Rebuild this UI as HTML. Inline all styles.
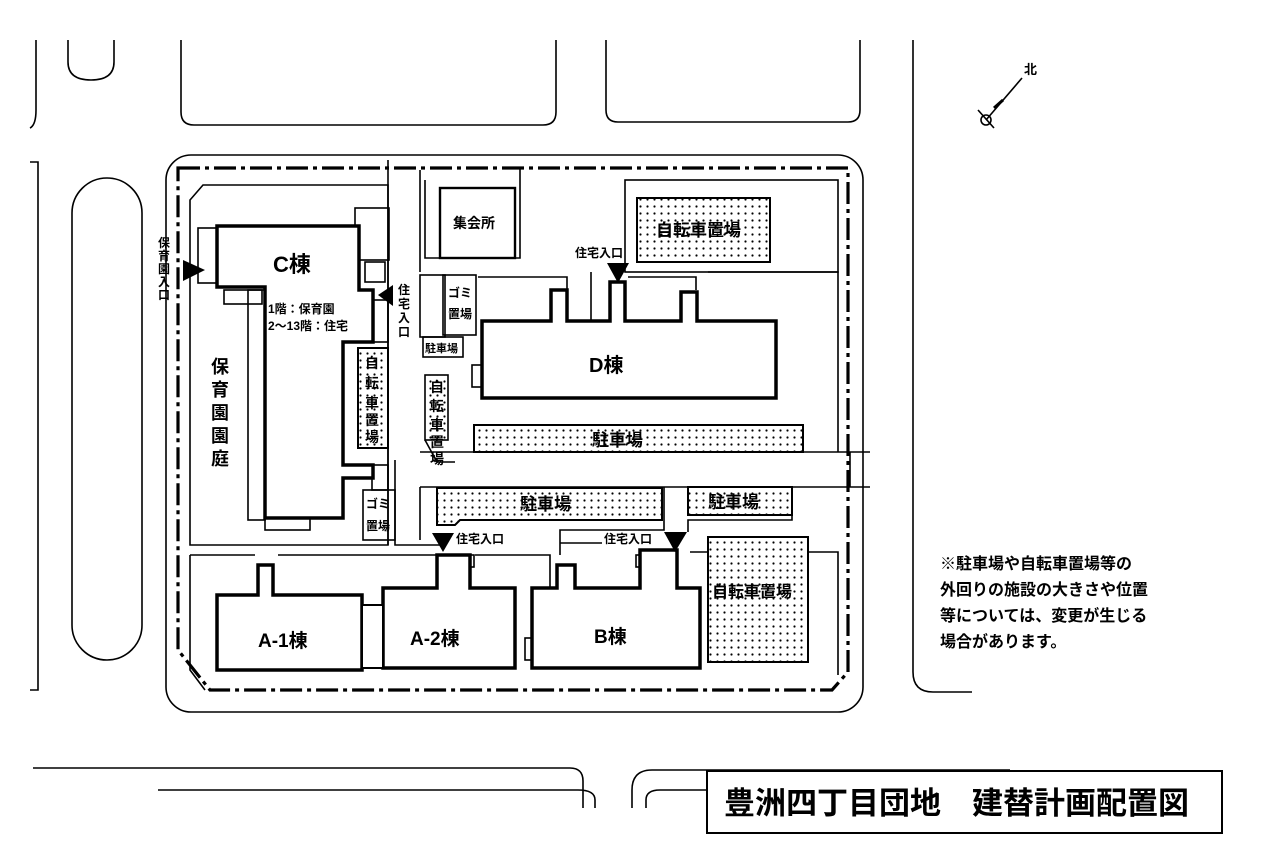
<!DOCTYPE html>
<html><head><meta charset="utf-8"><style>
html,body{margin:0;padding:0;background:#fff}
svg{display:block}
text{font-family:"Liberation Sans","Noto Sans CJK JP",sans-serif;fill:#000}
.b{font-weight:bold}
</style></head><body>
<svg width="1280" height="867" viewBox="0 0 1280 867" xmlns="http://www.w3.org/2000/svg">
<defs>
<pattern id="dots" width="7" height="7" patternUnits="userSpaceOnUse"><rect width="7" height="7" fill="#fff"/><circle cx="3.5" cy="3.5" r="1.1" fill="#000"/></pattern>
</defs>
<g fill="none" stroke="#000" stroke-width="1.6">
<path d="M36 40 V110 Q36 125 30 128"/>
<path d="M68 40 V62 Q68 80 91 80 Q114 80 114 62 V40"/>
<path d="M181 40 V112 Q181 125 194 125 H543 Q556 125 556 112 V40"/>
<path d="M606 40 V110 Q606 122 618 122 H848 Q860 122 860 110 V40"/>
<path d="M913 40 V672 Q913 692 933 692 H972"/>
<path d="M30 162 H38 V690 H30"/>
<rect x="72" y="178" width="70" height="482" rx="35"/>
<rect x="166" y="155" width="697" height="557" rx="25"/>
<path d="M178 168 H848 V672 L832 690 H210 L178 650 Z" stroke-width="3.2" stroke-dasharray="22 5 4 5"/>
<path d="M33 768 H570 Q583 768 583 781 V808"/>
<path d="M158 790 H578 Q595 790 595 800 V808"/>
<path d="M632 808 V790 Q632 770 652 770 H1010"/>
<path d="M646 808 V800 Q646 790 660 790 H707"/>
<path d="M190 545 V200 L203 185 H388 V545 Z"/>
<path d="M388 160 V545"/>
<path d="M420 170 V272"/>
<path d="M425 180 V258 H440 V188"/>
<rect x="355" y="208" width="34" height="52"/>
<rect x="198" y="228" width="19" height="55"/>
<rect x="224" y="290" width="38" height="14"/>
<rect x="248" y="290" width="17" height="230"/>
<rect x="365" y="262" width="20" height="20"/>
<rect x="370" y="300" width="18" height="42"/>
<rect x="372" y="465" width="16" height="25"/>
<rect x="265" y="518" width="45" height="12"/>
<rect x="440" y="188" width="75" height="70" stroke-width="2.4"/>
<path d="M520 168 V258 H440"/>
<rect x="625" y="180" width="213" height="92"/>
<rect x="420" y="275" width="25" height="62"/>
<rect x="443" y="275" width="33" height="60"/>
<rect x="423" y="337" width="40" height="20"/>
<path d="M478 277 H567 V321"/>
<path d="M591 272 V321"/>
<path d="M628 277 H696 V290"/>
<path d="M708 272 H838 V452"/>
<rect x="472" y="365" width="10" height="22"/>
<rect x="425" y="375" width="23" height="65" fill="url(#dots)"/>
<path d="M425 440 L437 462 H455"/>
<path d="M420 452 H870"/>
<path d="M420 487 H870"/>
<path d="M850 452 V487"/>
<path d="M395 460 V545 H440"/>
<rect x="363" y="490" width="32" height="50"/>
<path d="M420 487 V540"/>
<path d="M664 487 V530 H560 V555"/>
<path d="M792 487 V520 H688 V532"/>
<path d="M190 555 H255 M278 555 H440"/>
<path d="M190 555 V670 L205 690"/>
<path d="M475 555 H550 V588"/>
<path d="M690 552 H838 V675"/>
<rect x="370" y="640" width="12" height="22"/>
<rect x="525" y="638" width="10" height="22"/>
<rect x="452" y="555" width="22" height="12"/>
<rect x="636" y="555" width="22" height="12"/>
</g>
<g stroke="#000" stroke-width="2">
<rect x="637" y="198" width="133" height="64" fill="url(#dots)"/>
<rect x="474" y="425" width="329" height="27" fill="url(#dots)"/>
<path d="M437 488 H662 V520 H460 L455 525 H437 Z" fill="url(#dots)"/>
<rect x="688" y="487" width="104" height="28" fill="url(#dots)"/>
<rect x="708" y="537" width="100" height="125" fill="url(#dots)"/>
<rect x="358" y="348" width="30" height="100" fill="url(#dots)"/>
</g>
<g fill="#fff" stroke="#000" stroke-width="3.5" stroke-linejoin="miter">
<path d="M217 226 H359 V290 H373 V342 H343 V465 H373 V478 H343 V518 H265 V287 H217 Z"/>
<path d="M482 321 H551 V290 H567 V321 H610 V282 H625 V321 H681 V292 H697 V321 H776 V398 H482 Z"/>
<path d="M217 595 H258 V565 H273 V595 H362 V670 H217 Z"/>
<path d="M383 588 H437 V555 H470 V588 H515 V668 H383 Z"/>
<path d="M532 588 H557 V565 H575 V588 H640 V550 H677 V588 H700 V668 H532 Z"/>
<path d="M362 605 H383 V668 H362 Z" stroke-width="2"/>
</g>
<g fill="#000">
<polygon points="183,260 205,270 183,281"/>
<polygon points="393,285 378,295 393,306"/>
<polygon points="607,263 629,263 618,283"/>
<polygon points="432,533 454,533 443,552"/>
<polygon points="664,532 687,532 675,552"/>
</g>
<g stroke="#000" stroke-width="1.6" fill="none">
<line x1="986" y1="120" x2="1022" y2="78"/>
<line x1="978" y1="110" x2="994" y2="128"/>
<circle cx="986" cy="120" r="5"/>
<line x1="994" y1="108" x2="1003" y2="100" stroke-width="3"/>
</g>
<text x="1024" y="74" font-size="13" class="b">北</text>
<g class="b">
<text x="273" y="272" font-size="22">C棟</text>
<text x="268" y="313" font-size="12">1階：保育園</text>
<text x="268" y="330" font-size="12">2～13階：住宅</text>
<text x="589" y="372" font-size="20">D棟</text>
<text x="258" y="647" font-size="19">A-1棟</text>
<text x="410" y="645" font-size="19">A-2棟</text>
<text x="594" y="643" font-size="19">B棟</text>
<text x="453" y="228" font-size="14">集会所</text>
</g>
<g font-size="15" class="b">
<text x="656" y="236" font-size="17">自転車置場</text>
<text x="592" y="446" font-size="17">駐車場</text>
<text x="520" y="510" font-size="17">駐車場</text>
<text x="708" y="508" font-size="17">駐車場</text>
<text x="712" y="597" font-size="16">自転車置場</text>
<text x="211" y="373" font-size="18">保</text><text x="211" y="396" font-size="18">育</text><text x="211" y="419" font-size="18">園</text><text x="211" y="442" font-size="18">園</text><text x="211" y="465" font-size="18">庭</text>
<text x="365" y="368" font-size="14">自</text><text x="365" y="388" font-size="14">転</text><text x="365" y="408" font-size="14">車</text><text x="365" y="425" font-size="14">置</text><text x="365" y="442" font-size="14">場</text>
<text x="430" y="392" font-size="14">自</text><text x="430" y="411" font-size="14">転</text><text x="430" y="430" font-size="14">車</text><text x="430" y="447" font-size="14">置</text><text x="430" y="464" font-size="14">場</text>
<text x="448" y="297" font-size="12">ゴミ</text><text x="448" y="318" font-size="12">置場</text>
<text x="366" y="508" font-size="12">ゴミ</text><text x="366" y="530" font-size="12">置場</text>
<text x="425" y="352" font-size="11">駐車場</text>
<text x="575" y="257" font-size="12">住宅入口</text>
<text x="456" y="543" font-size="12">住宅入口</text>
<text x="604" y="543" font-size="12">住宅入口</text>
<text x="398" y="294" font-size="12">住</text><text x="398" y="308" font-size="12">宅</text><text x="398" y="322" font-size="12">入</text><text x="398" y="336" font-size="12">口</text>
<text x="158" y="247" font-size="12">保</text><text x="158" y="260" font-size="12">育</text><text x="158" y="273" font-size="12">園</text><text x="158" y="286" font-size="12">入</text><text x="158" y="299" font-size="12">口</text>
</g>
<line x1="560" y1="543" x2="602" y2="543" stroke="#000" stroke-width="1.4"/>
<g class="b" font-size="16">
<text x="940" y="569">※駐車場や自転車置場等の</text>
<text x="940" y="595">外回りの施設の大きさや位置</text>
<text x="940" y="621">等については、変更が生じる</text>
<text x="940" y="647">場合があります。</text>
</g>
<rect x="707" y="771" width="515" height="62" fill="#fff" stroke="#000" stroke-width="2"/>
<text x="724" y="814" font-size="31" class="b">豊洲四丁目団地　建替計画配置図</text>
</svg>
</body></html>
